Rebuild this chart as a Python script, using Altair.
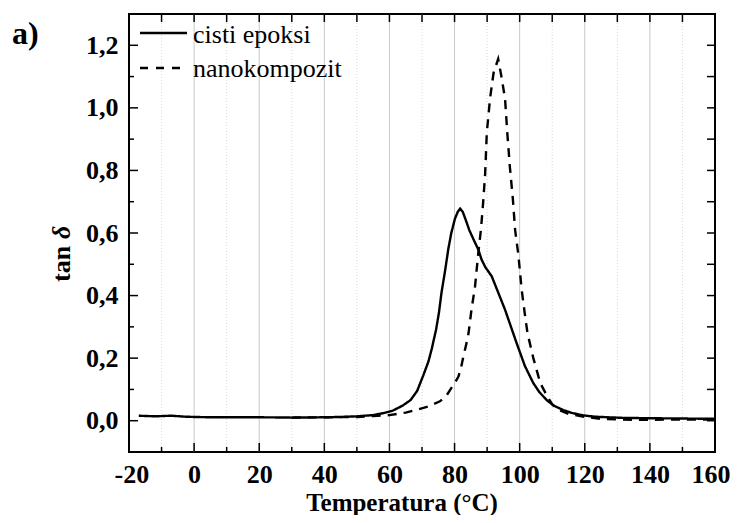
import altair as alt
import pandas as pd

# ---- data ----
solid_T = [-17, -12, -7, -3, 0, 5, 10, 20, 30, 40, 45, 50, 55, 58, 61, 64, 66.5, 68.5, 70.4, 72, 73,
           74.3, 75.2, 76, 77.1, 78.1, 79, 80.1, 81, 81.7, 82.5, 83.5, 84.5, 85.8, 87.3, 88.3, 89.5,
           91.4, 93.4, 95.5, 97, 99, 101.6, 104.2, 106, 108.3, 110.5, 113.4, 116, 119.5, 123, 127,
           132, 140, 150, 160]
solid_v = [0.016, 0.014, 0.016, 0.013, 0.012, 0.011, 0.011, 0.011, 0.010, 0.011, 0.012, 0.014, 0.018,
           0.024, 0.032, 0.048, 0.066, 0.095, 0.145, 0.19, 0.23, 0.29, 0.345, 0.41, 0.48, 0.55, 0.60,
           0.645, 0.668, 0.678, 0.668, 0.64, 0.61, 0.58, 0.547, 0.515, 0.49, 0.462, 0.41, 0.355, 0.31,
           0.25, 0.175, 0.12, 0.092, 0.066, 0.048, 0.034, 0.025, 0.017, 0.013, 0.011, 0.009, 0.008,
           0.007, 0.006]

dash_T = [30, 40, 50, 55, 60, 65, 68.4, 72, 75.5, 77.5, 78.6, 80, 81.2, 82, 82.7, 83.5, 84.3, 85.2,
          86.3, 87.3, 88.1, 88.8, 89.4, 89.9, 90.9, 92.0, 93.4, 94.4, 95.5, 96.2, 97.0, 97.9, 98.6,
          99.6, 100.6, 101.6, 102.4, 103.3, 104.2, 105.8, 106.6, 108.5, 110, 112, 115, 120, 125, 130,
          135, 140, 150, 160]
dash_v = [0.010, 0.011, 0.012, 0.015, 0.018, 0.026, 0.035, 0.046, 0.062, 0.08, 0.098, 0.12, 0.141,
          0.17, 0.205, 0.24, 0.28, 0.355, 0.43, 0.537, 0.61, 0.70, 0.79, 0.92, 1.03, 1.113, 1.156,
          1.10, 1.03, 0.92, 0.81, 0.71, 0.61, 0.53, 0.42, 0.34, 0.28, 0.24, 0.20, 0.14, 0.115, 0.077,
          0.052, 0.035, 0.022, 0.012, 0.006, 0.004, 0.003, 0.003, 0.004, 0.004]

series_names = ["cisti epoksi", "nanokompozit"]

x_major = [-20, 0, 20, 40, 60, 80, 100, 120, 140, 160]
x_minor = [-10, 10, 30, 50, 70, 90, 110, 130, 150]
y_major = [0.0, 0.2, 0.4, 0.6, 0.8, 1.0, 1.2]
y_minor = [0.1, 0.3, 0.5, 0.7, 0.9, 1.1]
y_all = [-0.1, 0.0, 0.1, 0.2, 0.3, 0.4, 0.5, 0.6, 0.7, 0.8, 0.9, 1.0, 1.1, 1.2, 1.3]

W, H = 586, 438
FONT = "Liberation Serif"

df = pd.concat([
    pd.DataFrame({"T": solid_T, "v": solid_v, "series": series_names[0]}),
    pd.DataFrame({"T": dash_T, "v": dash_v, "series": series_names[1]}),
])

xs = alt.Scale(domain=[-20, 160], nice=False, zero=False)
ys = alt.Scale(domain=[-0.1, 1.3], nice=False, zero=False)

xaxis = alt.Axis(values=x_major, title=None, grid=False, ticks=False, tickSize=0, domain=False,
                 labelFont=FONT, labelFontWeight="bold", labelFontSize=26, labelColor="black",
                 labelPadding=9, labelFlush=True, labelFlushOffset=15, labelOverlap=False,
                 labelExpr="toString(datum.value)")
yaxis = alt.Axis(values=y_major, title=None, grid=False, ticks=False, tickSize=0, domain=False,
                 labelFont=FONT, labelFontWeight="bold", labelFontSize=26, labelColor="black",
                 labelPadding=11, format=".1f", labelExpr="replace(datum.label, '.', ',')",
                 labelOverlap=False)

X = lambda f: alt.X(f, type="quantitative", scale=xs, axis=xaxis)
Y = lambda f: alt.Y(f, type="quantitative", scale=ys, axis=yaxis)

grid_major = alt.Chart(pd.DataFrame({"g": x_major[1:-1]})).mark_rule(
    color="#c8c8c8", strokeWidth=1).encode(x=X("g"))
grid_minor = alt.Chart(pd.DataFrame({"g": x_minor})).mark_rule(
    color="#d8d8d8", strokeWidth=1, strokeDash=[1, 2]).encode(x=X("g"))

lines = alt.Chart(df).mark_line(color="black", strokeWidth=2.4).encode(
    x=X("T"), y=Y("v"),
    strokeDash=alt.StrokeDash("series:N", scale=alt.Scale(domain=series_names, range=[[1, 0], [9, 7]]),
                              legend=None),
)

# inward ticks
tb_major = alt.Chart(pd.DataFrame({"t": x_major})).mark_rule(color="black", strokeWidth=1.5).encode(
    x=X("t"), y=alt.value(H), y2=alt.value(H - 9))
tb_minor = alt.Chart(pd.DataFrame({"t": x_minor})).mark_rule(color="black", strokeWidth=1.5).encode(
    x=X("t"), y=alt.value(H), y2=alt.value(H - 5))
tt = alt.Chart(pd.DataFrame({"t": x_major + x_minor})).mark_rule(color="black", strokeWidth=1.5).encode(
    x=X("t"), y=alt.value(0), y2=alt.value(8))
tl_major = alt.Chart(pd.DataFrame({"t": y_major})).mark_rule(color="black", strokeWidth=1.5).encode(
    y=Y("t"), x=alt.value(0), x2=alt.value(9))
tl_minor = alt.Chart(pd.DataFrame({"t": y_minor})).mark_rule(color="black", strokeWidth=1.5).encode(
    y=Y("t"), x=alt.value(0), x2=alt.value(5))
tr = alt.Chart(pd.DataFrame({"t": y_all[1:-1]})).mark_rule(color="black", strokeWidth=1.5).encode(
    y=Y("t"), x=alt.value(W), x2=alt.value(W - 8))

# legend (decoration)
leg_solid = alt.Chart(pd.DataFrame({"a": [0]})).mark_rule(color="black", strokeWidth=2.4).encode(
    x=alt.value(11), x2=alt.value(58), y=alt.value(19))
leg_dash = alt.Chart(pd.DataFrame({"a": [0]})).mark_rule(color="black", strokeWidth=2.4,
                                                          strokeDash=[8, 8]).encode(
    x=alt.value(11), x2=alt.value(58), y=alt.value(54))
leg_t1 = alt.Chart(pd.DataFrame({"a": [0]})).mark_text(
    text=series_names[0], font=FONT, fontSize=26, align="left", baseline="alphabetic",
    color="black").encode(x=alt.value(64), y=alt.value(29))
leg_t2 = alt.Chart(pd.DataFrame({"a": [0]})).mark_text(
    text=series_names[1], font=FONT, fontSize=26, align="left", baseline="alphabetic",
    color="black").encode(x=alt.value(64), y=alt.value(63))

# titles
panel = alt.Chart(pd.DataFrame({"a": [0]})).mark_text(
    text="a)", font=FONT, fontSize=32, fontWeight="bold", align="left", baseline="alphabetic",
    color="black").encode(x=alt.value(-117), y=alt.value(30))
ytitle1 = alt.Chart(pd.DataFrame({"a": [0]})).mark_text(
    text="tan", font=FONT, fontSize=26, fontWeight="bold", align="left", baseline="alphabetic",
    angle=270, color="black").encode(x=alt.value(-59), y=alt.value(268))
ytitle2 = alt.Chart(pd.DataFrame({"a": [0]})).mark_text(
    text="δ", font=FONT, fontSize=26, fontWeight="bold", fontStyle="italic", align="left",
    baseline="alphabetic", angle=270, color="black").encode(x=alt.value(-59), y=alt.value(225))
xtitle = alt.Chart(pd.DataFrame({"a": [0]})).mark_text(
    text="Temperatura (°C)", font=FONT, fontSize=25, fontWeight="bold", align="center",
    baseline="alphabetic", color="black").encode(x=alt.value(273), y=alt.value(H + 59))

chart = alt.layer(
    grid_minor, grid_major, lines, tb_major, tb_minor, tt, tl_major, tl_minor, tr,
    leg_solid, leg_dash, leg_t1, leg_t2, panel, ytitle1, ytitle2, xtitle
).properties(
    width=W, height=H,
    autosize=alt.AutoSizeParams(type="none"),
    padding={"left": 121, "top": 6, "right": 16, "bottom": 63},
).configure_view(stroke="black", strokeWidth=2)

chart.save("out.html", embed_options={"renderer": "svg", "actions": False})
